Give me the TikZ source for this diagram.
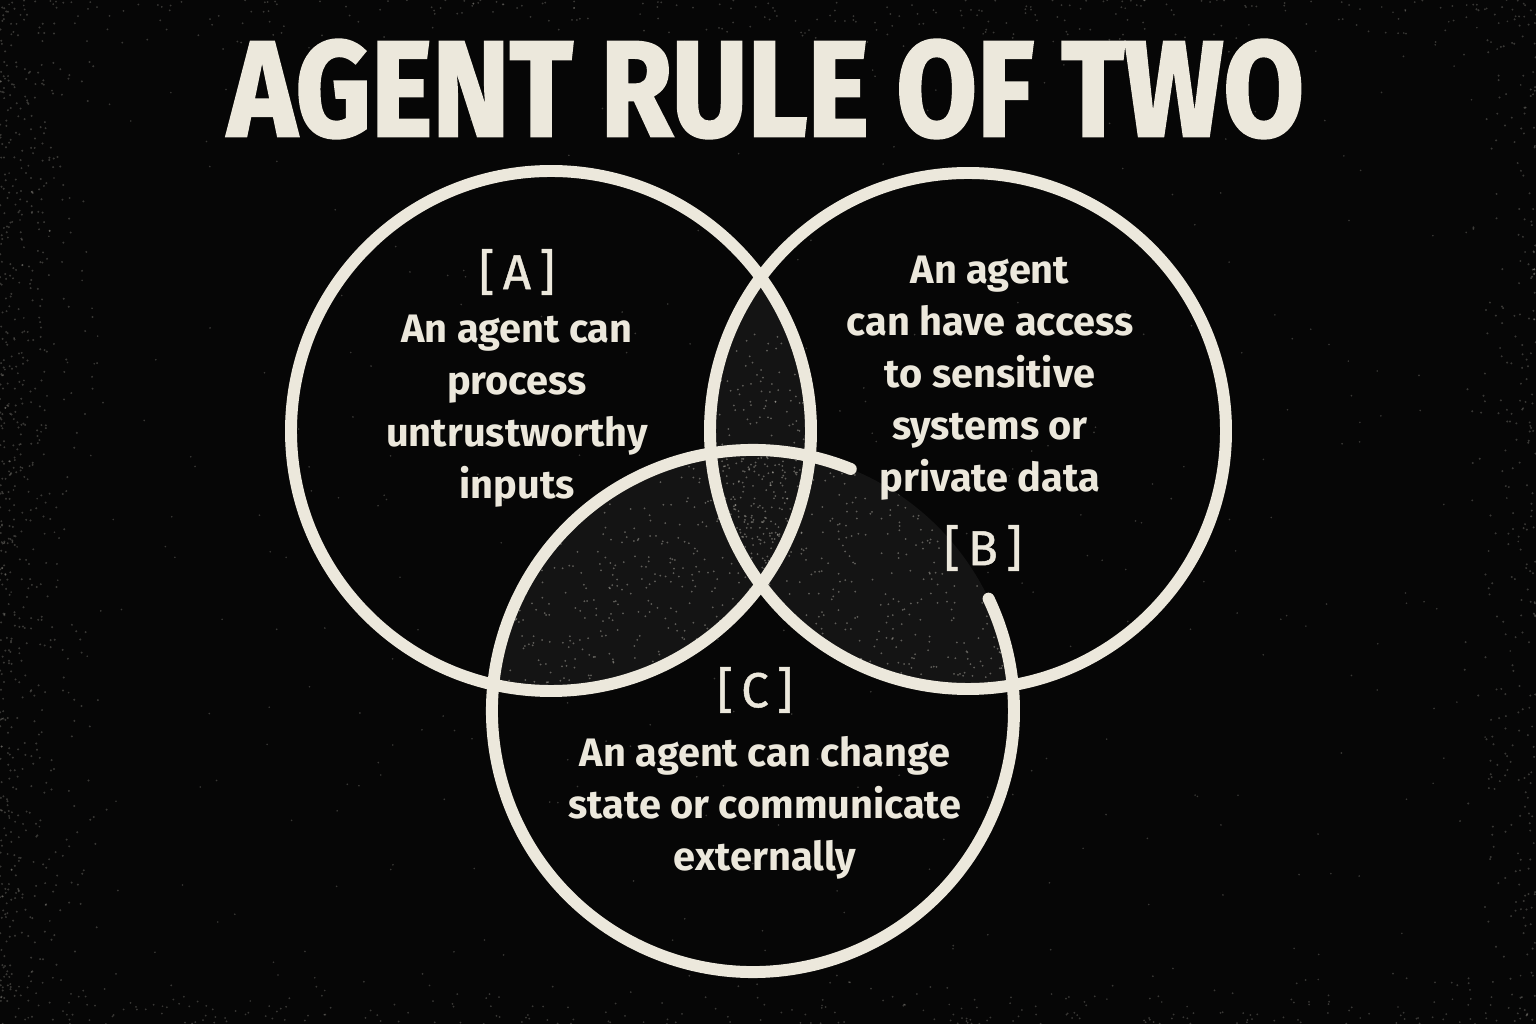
\documentclass[tikz,border=0pt]{standalone}
\usepackage{fontspec}
\setmainfont{Fira Sans}
\newfontfamily\titlefont{Fira Sans}[BoldFeatures={FakeBold=2}]
\newfontfamily\tagfont{Fira Sans}[FakeBold=0.9]
\usetikzlibrary{calc}
\definecolor{bg}{HTML}{060606}
\definecolor{chalk}{HTML}{ECE8DC}
\definecolor{lens}{HTML}{141414}
\begin{document}
\begin{tikzpicture}[x=0.01cm,y=0.01cm,
  ring/.style={draw=chalk, line width=3.4pt},
  body/.style={text=chalk, font=\fontsize{11.3}{14.8}\selectfont\bfseries, align=center, inner sep=0},
  tag/.style={text=chalk, font=\tagfont\fontsize{14}{16}\selectfont, inner sep=0},
  title/.style={text=chalk, font=\titlefont\fontsize{38.6}{42}\selectfont\bfseries, inner sep=0},
  speck/.style={fill=chalk, opacity=0.22},
  lspeck/.style={fill=chalk, opacity=0.35}]
\fill[bg] (0,0) rectangle (1536,1024);
\useasboundingbox (0,0) rectangle (1536,1024);
% speckle texture
\pgfmathsetseed{11}
\foreach \i in {1,...,400} {\fill[speck] (rnd*1536, rnd*1024) circle (0.9);}
\foreach \i in {1,...,700} {\fill[speck] (rnd*rnd*110, rnd*1024) circle (1.1);}
\foreach \i in {1,...,300} {\fill[speck] (1536-rnd*rnd*80, rnd*1024) circle (1.1);}
\foreach \i in {1,...,250} {\fill[speck] (rnd*1536, 1024-rnd*rnd*60) circle (1.0);}
\foreach \i in {1,...,250} {\fill[speck] (rnd*1536, rnd*rnd*60) circle (1.0);}
% centres
\coordinate (cA) at (551,593);
\coordinate (cB) at (968,593);
\coordinate (cC) at (753,313);
% lens regions
\begin{scope}
  \clip (cA) circle (260);
  \fill[lens] (cB) circle (258);
  \fill[lens] (cC) circle (261);
\end{scope}
\begin{scope}
  \clip (cB) circle (258);
  \fill[lens] (cC) circle (261);
\end{scope}
% lens speckle (A and B, A and C, B and C)
\begin{scope}
  \clip (cA) circle (260);
  \clip (cB) circle (258);
  \foreach \i in {1,...,400} {\fill[lspeck] (700+rnd*120, 330+rnd*360) circle (1.0);}
\end{scope}
\begin{scope}
  \clip (cA) circle (260);
  \clip (cC) circle (261);
  \foreach \i in {1,...,500} {\fill[lspeck] (490+rnd*330, 330+rnd*240) circle (1.0);}
\end{scope}
\begin{scope}
  \clip (cB) circle (258);
  \clip (cC) circle (261);
  \foreach \i in {1,...,500} {\fill[lspeck] (700+rnd*320, 330+rnd*240) circle (1.0);}
\end{scope}
% rings
\draw[ring] (cA) circle (260);
\draw[ring] (cB) circle (258);
\coordinate (cStart) at ([shift={(cC)}]68:261);
\draw[ring, line cap=round] (cStart) arc[start angle=68, end angle=385.5, radius=261];
% title
\node[title] (title) at (766,935) {\scalebox{0.86}[1]{AGENT RULE OF TWO}};
% labels
\node[tag] (tagA) at (517,752) {[\,A\,]};
\node[body] (txtA) at (517,613) {An agent can\\process\\untrustworthy\\inputs};
\node[tag] (tagB) at (983,476) {[\,B\,]};
\node[body] (txtB) at (990,646) {An agent\\can have access\\to sensitive\\systems or\\private data};
\node[tag] (tagC) at (755,334) {[\,C\,]};
\node[body] (txtC) at (765,216) {An agent can change\\state or communicate\\externally};
\end{tikzpicture}
\end{document}
